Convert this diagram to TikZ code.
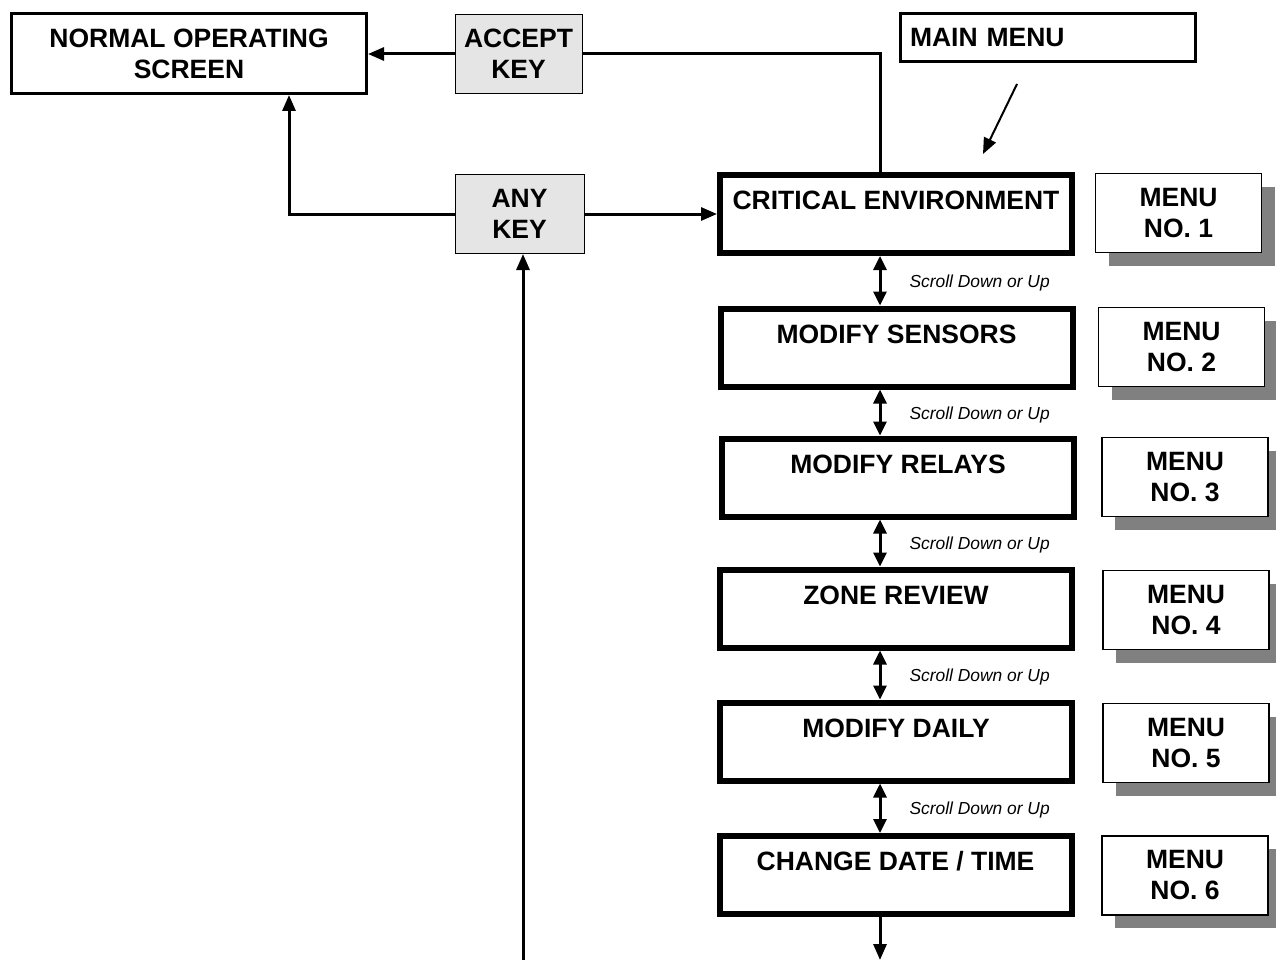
\documentclass[tikz,border=0pt]{standalone}
\usepackage{fontspec}
\setmainfont{Liberation Sans}
\usetikzlibrary{arrows.meta,shadows}

\tikzset{
  bigfont/.style={font=\fontsize{26.5}{31}\selectfont\bfseries},
  screen/.style={draw,line width=6pt,minimum width=352pt,minimum height=78pt,
    bigfont,text height=19pt,text depth=28pt},
  keybox/.style={draw,fill=gray!20,line width=1pt,align=center,bigfont},
  menubox/.style={draw,fill=white,line width=1.2pt,minimum width=166pt,minimum height=79pt,
    align=center,bigfont,drop shadow={shadow xshift=13pt,shadow yshift=-13pt,fill=gray,opacity=1}},
  conn/.style={line width=3pt},
  tip/.style={-{Triangle[length=16pt,width=13pt]}},
  bitip/.style={{Triangle[length=14pt,width=13pt]}-{Triangle[length=14pt,width=13pt]}},
  scroll/.style={anchor=west,inner sep=0pt,xshift=28pt,yshift=-2pt,font=\fontsize{17.4}{20}\selectfont\itshape}
}

\begin{document}
\begin{tikzpicture}[x=1pt,y=-1pt]
  \useasboundingbox (0,0) rectangle (1276,963);
  % top row
  \node[draw,line width=3pt,minimum width=355pt,minimum height=80pt,align=center,bigfont] (nos) at (189,53.5) {NORMAL OPERATING\\SCREEN};
  \node[keybox,minimum width=127pt,minimum height=79pt] (accept) at (518.5,54) {ACCEPT\\KEY};
  \node[keybox,minimum width=129pt,minimum height=79pt] (anykey) at (519.5,214) {ANY\\KEY};
  \node[draw,line width=3pt,minimum height=48pt,text width=275pt,inner xsep=10pt,align=left,bigfont] (mainmenu) at (1047.5,37.5) {MAIN MENU};
  % menu screens
  \node[screen] (critical) at (896,214) {CRITICAL ENVIRONMENT};
  \node[screen] (sensors) at (896.5,347.5) {MODIFY SENSORS};
  \node[screen] (relays) at (898,477.5) {MODIFY RELAYS};
  \node[screen] (zone) at (896,608.5) {ZONE REVIEW};
  \node[screen] (daily) at (896,741.5) {MODIFY DAILY};
  \node[screen] (datetime) at (895.5,875) {CHANGE DATE / TIME};
  % menu numbers
  \node[menubox] (menu1) at (1178.5,213) {MENU\\NO. 1};
  \node[menubox] (menu2) at (1181.5,347) {MENU\\NO. 2};
  \node[menubox] (menu3) at (1185,477) {MENU\\NO. 3};
  \node[menubox] (menu4) at (1186,610) {MENU\\NO. 4};
  \node[menubox] (menu5) at (1186,743) {MENU\\NO. 5};
  \node[menubox] (menu6) at (1185,875.5) {MENU\\NO. 6};
  % helper points
  \coordinate (col) at (880,0);
  \coordinate (leftcol) at (289,0);
  \coordinate (bottom) at (523,960);
  \coordinate (tail) at (880,960);
  \coordinate (mmtail) at (1017,84);
  \coordinate (mmhead) at (983,154);
  % connectors
  \draw[conn] (critical.north -| col) |- (accept.east);
  \draw[conn,tip] (accept.west) -- (nos.east |- accept.west);
  \draw[conn,tip] (anykey.west) -| (nos.south -| leftcol);
  \draw[conn,tip] (anykey.east) -- (critical.west);
  \draw[conn,tip] (bottom) -- (anykey.south -| bottom);
  \draw[line width=2pt,tip] (mmtail) -- (mmhead);
  \draw[conn,bitip] (critical.south -| col) -- node[scroll] (sc1) {Scroll Down or Up} (sensors.north -| col);
  \draw[conn,bitip] (sensors.south -| col) -- node[scroll] (sc2) {Scroll Down or Up} (relays.north -| col);
  \draw[conn,bitip] (relays.south -| col) -- node[scroll] (sc3) {Scroll Down or Up} (zone.north -| col);
  \draw[conn,bitip] (zone.south -| col) -- node[scroll] (sc4) {Scroll Down or Up} (daily.north -| col);
  \draw[conn,bitip] (daily.south -| col) -- node[scroll] (sc5) {Scroll Down or Up} (datetime.north -| col);
  \draw[conn,tip] (datetime.south -| col) -- (tail);
\end{tikzpicture}
\end{document}
